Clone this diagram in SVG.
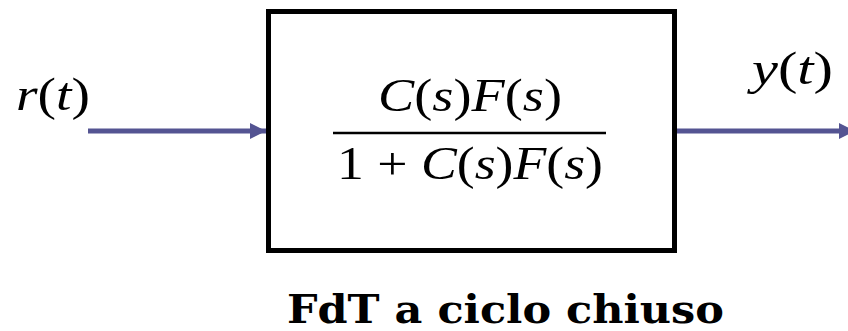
<svg xmlns="http://www.w3.org/2000/svg" width="848" height="331" viewBox="0 0 848 331">
<style>
.m{font-family:"Liberation Serif","DejaVu Serif",serif;font-size:46px;fill:#000}
.i{font-style:italic}
.t{font-family:"DejaVu Serif","Liberation Serif",serif;font-size:39px;font-weight:bold;fill:#000}
.c{stroke:#545492;stroke-width:5;fill:none}
</style>
<defs>
<marker id="ah" markerUnits="userSpaceOnUse" markerWidth="18" markerHeight="18" refX="16" refY="8" orient="auto">
<path d="M0,0 L16,8 L0,16 Z" fill="#545492"/>
</marker>
</defs>
<g id="connectors">
<line class="c" x1="88" y1="131" x2="266" y2="131" marker-end="url(#ah)"/>
<line class="c" x1="677" y1="131" x2="855" y2="131" marker-end="url(#ah)"/>
</g>
<g id="block">
<rect x="268.5" y="11.5" width="406" height="239" fill="#fff" stroke="#000" stroke-width="5"/>
<text class="m" x="378" y="111" textLength="184" lengthAdjust="spacingAndGlyphs"><tspan class="i">C</tspan>(<tspan class="i">s</tspan>)<tspan class="i">F</tspan>(<tspan class="i">s</tspan>)</text>
<line x1="333" y1="133" x2="606" y2="133" stroke="#000" stroke-width="2.5"/>
<text class="m" x="337" y="179" textLength="266" lengthAdjust="spacingAndGlyphs">1 + <tspan class="i">C</tspan>(<tspan class="i">s</tspan>)<tspan class="i">F</tspan>(<tspan class="i">s</tspan>)</text>
</g>
<g id="input-label">
<text class="m" x="16" y="110" textLength="74" lengthAdjust="spacingAndGlyphs"><tspan class="i">r</tspan>(<tspan class="i">t</tspan>)</text>
</g>
<g id="output-label">
<text class="m" x="752" y="84" textLength="81" lengthAdjust="spacingAndGlyphs"><tspan class="i">y</tspan>(<tspan class="i">t</tspan>)</text>
</g>
<g id="title">
<text class="t" x="287" y="323" textLength="437" lengthAdjust="spacingAndGlyphs">FdT a ciclo chiuso</text>
</g>
</svg>
